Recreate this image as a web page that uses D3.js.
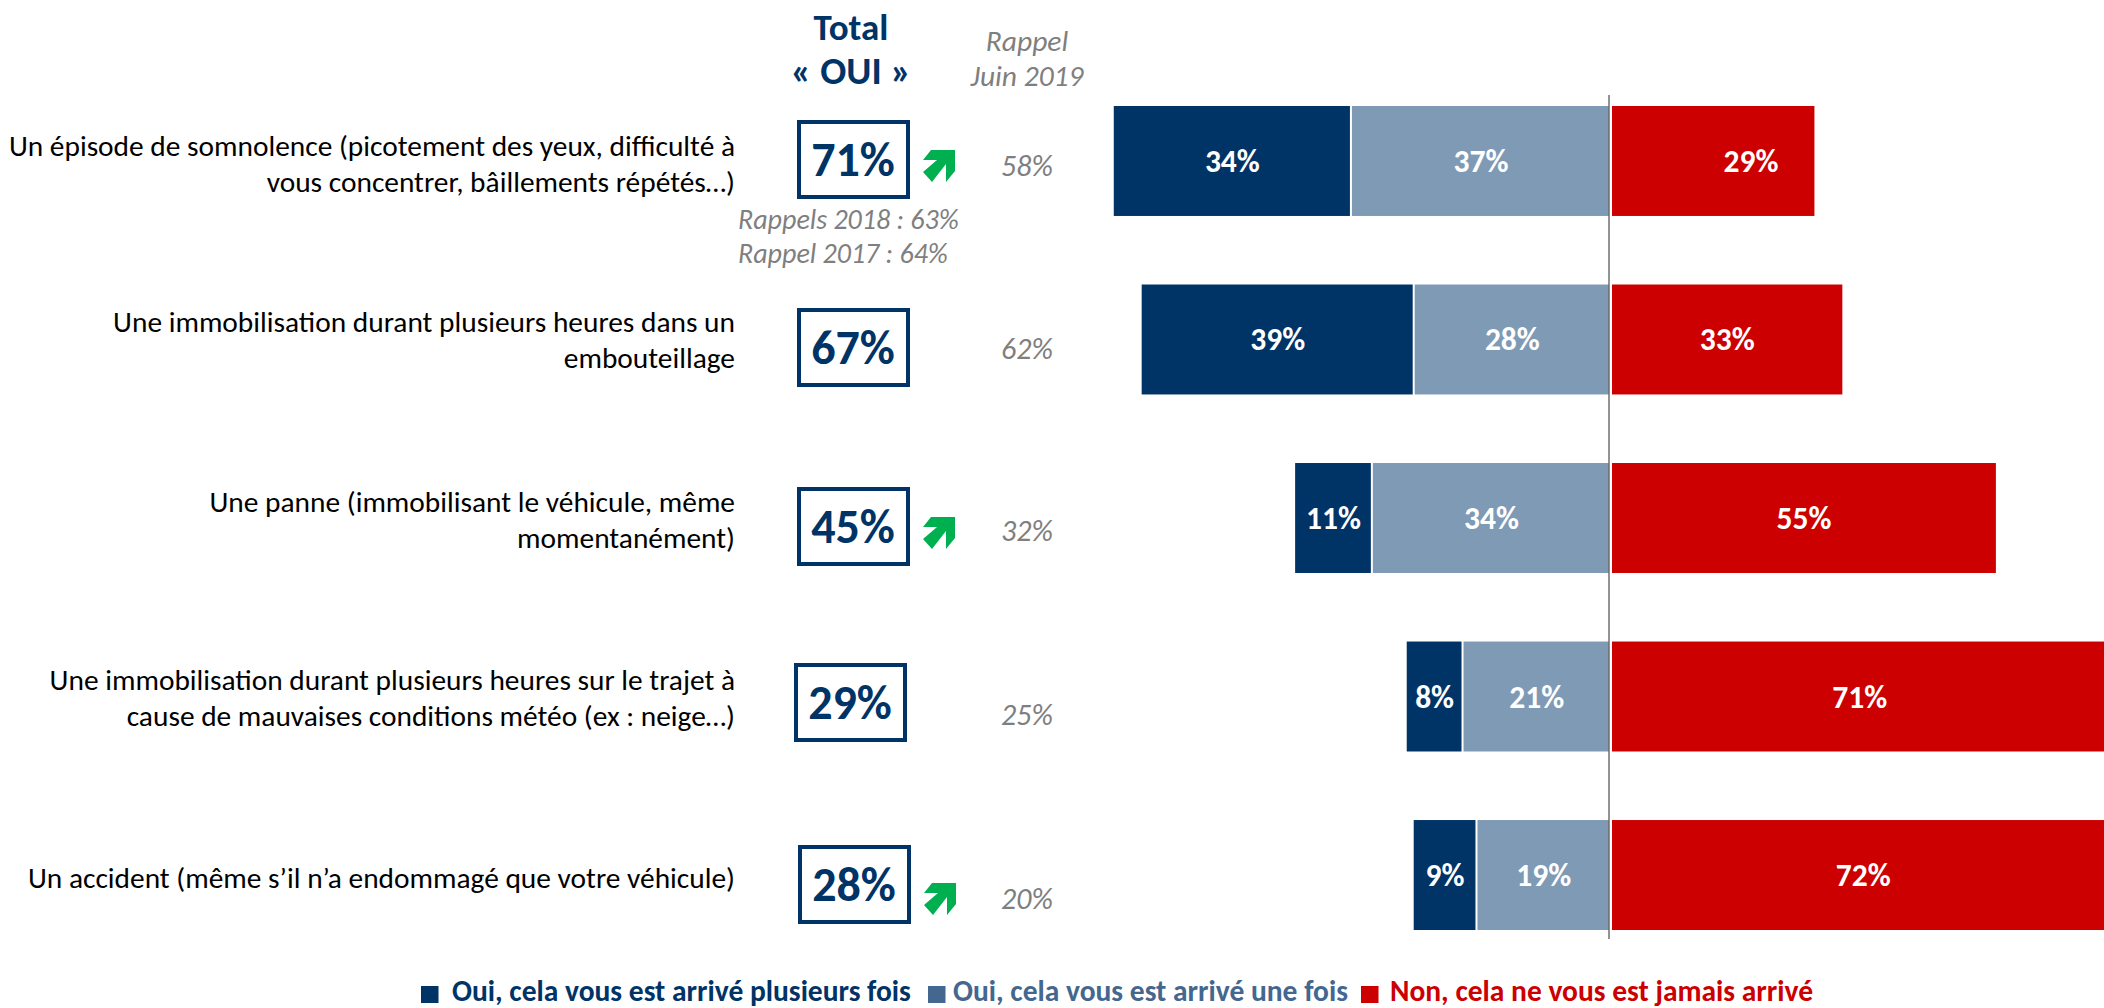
<!DOCTYPE html>
<html><head><meta charset="utf-8">
<script src="https://cdn.jsdelivr.net/npm/d3@7/dist/d3.min.js"></script>
<style>html,body{margin:0;padding:0;background:#fff;overflow:hidden}text{font-family:Carlito,Lato,"Open Sans",sans-serif}</style>
</head><body><svg id="c" width="2104" height="1008"></svg>
<script>
const categories = ["somnolence","embouteillage","panne","meteo","accident"];
const labelLines = [
 ["Un épisode de somnolence (picotement des yeux, difficulté à","vous concentrer, bâillements répétés…)"],
 ["Une immobilisation durant plusieurs heures dans un","embouteillage"],
 ["Une panne (immobilisant le véhicule, même","momentanément)"],
 ["Une immobilisation durant plusieurs heures sur le trajet à","cause de mauvaises conditions météo (ex : neige…)"],
 ["Un accident (même s’il n’a endommagé que votre véhicule)"]
];
const plusieurs = [34,39,11,8,9];
const uneFois = [37,28,34,21,19];
const jamais = [29,33,55,71,72];
const totalOui = [71,67,45,29,28];
const rappel2019 = [58,62,32,25,20];
const hausse = [true,false,true,false,true];
const legendLabels = ["Oui, cela vous est arrivé plusieurs fois","Oui, cela vous est arrivé une fois","Non, cela ne vous est jamais arrivé"];
const rappelsAnciens = ["Rappels 2018 : 63%","Rappel 2017 : 64%"];

const navy="#003366", light="#7f9ab5", red="#cc0000", grey="#7f7f7f", green="#00b050";
const svg=d3.select("#c");
const y=d3.scaleBand().domain(categories).range([106,930]).paddingInner(0.384);
const xL=d3.scaleLinear().domain([0,100]).range([1609,911.5]);
const xR=d3.scaleLinear().domain([0,100]).range([1612,2310]);

categories.forEach((c,i)=>{
  const t=y(c),h=y.bandwidth(),cy=t+h/2;
  const a=plusieurs[i],b=uneFois[i],r=jamais[i];
  svg.append("rect").attr("x",xL(a+b)).attr("y",t).attr("width",xL(b)-xL(a+b)-1).attr("height",h).attr("fill",navy);
  svg.append("rect").attr("x",xL(b)+1).attr("y",t).attr("width",xL(0)-xL(b)-1).attr("height",h).attr("fill",light);
  svg.append("rect").attr("x",xR(0)).attr("y",t).attr("width",xR(r)-xR(0)).attr("height",h).attr("fill",red);
  const lab=(x,v)=>svg.append("text").attr("x",x).attr("y",cy+11).attr("text-anchor","middle").attr("fill","#fff").attr("font-size",31.5).attr("font-weight",700).text(v+"%");
  lab((xL(a+b)+xL(b))/2,a); lab((xL(b)+xL(0))/2+1,b); lab(i==0?1751:(xR(0)+xR(r))/2,r);
});
svg.append("line").attr("x1",1609).attr("x2",1609).attr("y1",95).attr("y2",939).attr("stroke","#666").attr("stroke-width",1.4);

const labY=[156,332,512,690,888];
labelLines.forEach((ls,i)=>ls.forEach((l,j)=>svg.append("text").attr("x",735).attr("y",labY[i]+j*36).attr("text-anchor","end").attr("fill","#000").attr("font-size",29.4).text(l)));

const boxX=[797,797,797,794,798], boxY=[120,308,487,663,845], arrowY=[150,0,517,0,883];
totalOui.forEach((v,i)=>{
  svg.append("rect").attr("x",boxX[i]+2).attr("y",boxY[i]+2).attr("width",109).attr("height",75).attr("fill","none").attr("stroke",navy).attr("stroke-width",4);
  svg.append("text").attr("x",boxX[i]+56).attr("y",boxY[i]+56).attr("text-anchor","middle").attr("fill",navy).attr("font-size",48).attr("font-weight",700).text(v+"%");
  if(hausse[i]){
    svg.append("path").attr("fill",green).attr("transform",`translate(${boxX[i]+126},${arrowY[i]})`)
      .attr("d",d3.line()([[8,0],[32,0],[32,21],[23,32],[23,14],[9,32],[0,22],[14,10],[0,10]])+"Z");
  }
});
const rapY=[176,359,541,725,909];
rappel2019.forEach((v,i)=>svg.append("text").attr("x",1027).attr("y",rapY[i]).attr("text-anchor","middle").attr("fill",grey).attr("font-style","italic").attr("font-size",30).text(v+"%"));
rappelsAnciens.forEach((l,j)=>svg.append("text").attr("x",738).attr("y",229+j*34).attr("fill",grey).attr("font-style","italic").attr("font-size",28).text(l));
[["Rappel",51],["Juin 2019",86]].forEach(d=>svg.append("text").attr("x",1027).attr("y",d[1]).attr("text-anchor","middle").attr("fill",grey).attr("font-style","italic").attr("font-size",29.5).text(d[0]));
[["Total",40,37],["« OUI »",84,38.5]].forEach(d=>svg.append("text").attr("x",851).attr("y",d[1]).attr("text-anchor","middle").attr("fill",navy).attr("font-weight",700).attr("font-size",d[2]).text(d[0]));

const legX=[[421,452],[928,953],[1361,1390]], legC=[navy,"#44678f",red];
legendLabels.forEach((l,i)=>{
  svg.append("rect").attr("x",legX[i][0]).attr("y",986).attr("width",17.5).attr("height",17).attr("fill",legC[i]);
  svg.append("text").attr("x",legX[i][1]).attr("y",1001).attr("fill",legC[i]).attr("font-weight",700).attr("font-size",29.5).text(l);
});
</script></body></html>
